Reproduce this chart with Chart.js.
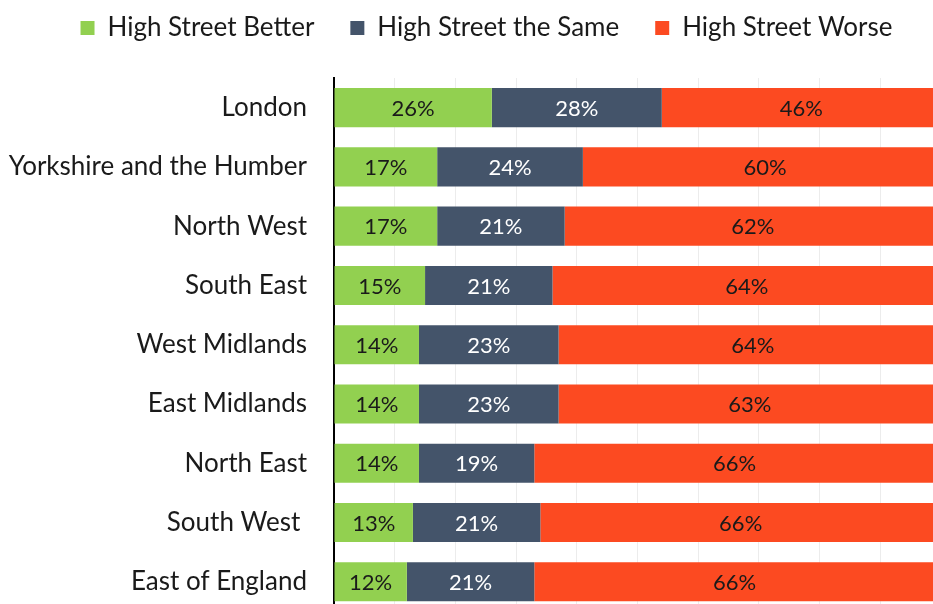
<!DOCTYPE html>
<html>
<head>
<meta charset="utf-8">
<script src="https://cdn.jsdelivr.net/npm/chart.js@4"></script>
<style>
  html, body { margin: 0; padding: 0; overflow: hidden; background: #fff; }
  #chart { display: block; }
</style>
</head>
<body>
<canvas id="chart" width="974" height="654"></canvas>
<script>
  // dados (percentuais por região)
  const regions = ['London', 'Yorkshire and the Humber', 'North West', 'South East', 'West Midlands',
    'East Midlands', 'North East', 'South West ', 'East of England'];
  const better = [26, 17, 17, 15, 14, 14, 14, 13, 12];
  const same = [28, 24, 21, 21, 23, 23, 19, 21, 21];
  const worse = [46, 60, 62, 64, 64, 63, 66, 66, 66];
  const seriesNames = ['High Street Better', 'High Street the Same', 'High Street Worse'];

  const FONT = 'Lato, "Open Sans", sans-serif';

  // rótulos dentro das barras
  const barLabels = {
    id: 'barLabels',
    afterDatasetsDraw(chart) {
      const ctx = chart.ctx;
      ctx.save();
      ctx.font = '22px ' + FONT;
      ctx.textAlign = 'center';
      ctx.textBaseline = 'middle';
      chart.data.datasets.forEach((ds, i) => {
        const meta = chart.getDatasetMeta(i);
        ctx.fillStyle = ds.labelColor;
        meta.data.forEach((el, j) => {
          const p = el.getProps(['x', 'y', 'base'], true);
          ctx.fillText(ds.data[j] + '%', (p.x + p.base) / 2, p.y + 1);
        });
      });
      ctx.restore();
    }
  };

  // legenda: altura fixa, deslocada pra cima e um pouco pra direita
  const legendFix = {
    id: 'legendFix',
    beforeInit(chart) {
      const lg = chart.legend;
      if (!lg) return;
      const fit = lg.fit;
      lg.fit = function () { fit.call(this); this.height = 78; };
    },
    afterLayout(chart) {
      const lg = chart.legend;
      if (!lg) return;
      lg.top -= 21;
      lg.bottom -= 21;
      lg.left += 16;
      lg.right += 16;
    }
  };

  new Chart(document.getElementById('chart'), {
    type: 'bar',
    data: {
      labels: regions,
      datasets: [
        { label: seriesNames[0], data: better, backgroundColor: '#92d050', labelColor: '#1a1a1a' },
        { label: seriesNames[1], data: same, backgroundColor: '#44546a', labelColor: '#ffffff' },
        { label: seriesNames[2], data: worse, backgroundColor: '#fc4a21', labelColor: '#1a1a1a' }
      ]
    },
    options: {
      indexAxis: 'y',
      responsive: false,
      animation: false,
      events: [],
      layout: { padding: { left: 0, right: 33, top: 0, bottom: 8 } },
      datasets: { bar: { categoryPercentage: 1, barPercentage: 0.66, borderWidth: 0 } },
      plugins: {
        tooltip: { enabled: false },
        legend: {
          position: 'top',
          align: 'center',
          labels: {
            boxWidth: 14,
            boxHeight: 14,
            padding: 36,
            color: '#1a1a1a',
            font: { family: FONT, size: 26 }
          }
        }
      },
      scales: {
        x: {
          stacked: true,
          min: 0,
          max: 100,
          ticks: { display: false, stepSize: 10 },
          grid: { color: '#ececec', lineWidth: 1, drawTicks: false },
          border: { display: false },
          afterFit(scale) { scale.height = 0; }
        },
        y: {
          stacked: true,
          grid: { display: false, drawTicks: false },
          border: { display: true, color: '#000', width: 2 },
          ticks: { color: '#1a1a1a', padding: 27, font: { family: FONT, size: 26 } },
          afterFit(scale) { scale.width = 334; }
        }
      }
    },
    plugins: [barLabels, legendFix]
  });
</script>
</body>
</html>
